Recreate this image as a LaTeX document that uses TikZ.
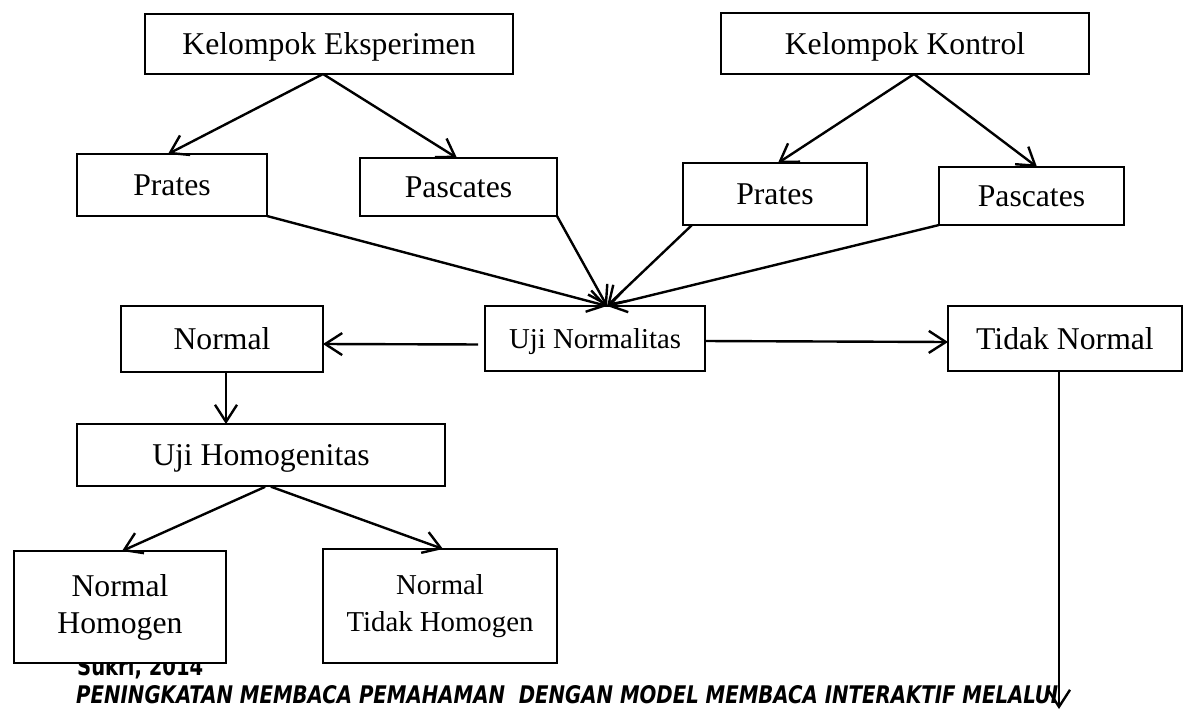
\documentclass[tikz,border=0pt]{standalone}
\usepackage{fontspec}
\setmainfont{Liberation Serif}
\newfontfamily\capfont{DejaVu Sans}
\usetikzlibrary{arrows.meta}
\tikzset{
  box/.style={draw, line width=2.2pt, fill=white, inner sep=0pt, outer sep=0pt,
    font=\fontsize{31.7}{37}\selectfont, text height=21pt, text depth=0pt},
  smallbox/.style={box, font=\fontsize{28.8}{34}\selectfont, text height=19pt},
  boxtwo/.style={draw, line width=2.2pt, fill=white, inner sep=0pt, outer sep=0pt, align=center},
  arr/.style={line width=2.4pt, -{Straight Barb[length=17pt,width=22pt]}},
  caption/.style={inner sep=0pt, anchor=base west}
}
\begin{document}
\begin{tikzpicture}[x=1pt,y=-1pt]
\fill[white] (0,0) rectangle (1183,710);
\useasboundingbox (0,0) rectangle (1183,710);
% captions (partly covered by the boxes)
\node[caption] (cap1) at (77,675) {\resizebox{126pt}{19pt}{\capfont\bfseries Sukri, 2014}};
\node[caption] (cap2) at (76,703) {\resizebox{982pt}{18pt}{\capfont\bfseries\itshape PENINGKATAN MEMBACA PEMAHAMAN\ \ DENGAN MODEL MEMBACA INTERAKTIF MELALUI}};
% boxes
\node[box, minimum width=368pt, minimum height=60pt] (KE) at (329,44) {Kelompok Eksperimen};
\node[box, minimum width=368pt, minimum height=61pt] (KK) at (905,43.5) {Kelompok Kontrol};
\node[box, minimum width=190pt, minimum height=62pt] (PL) at (172,185) {Prates};
\node[box, minimum width=197pt, minimum height=58pt] (PaL) at (458.5,187) {Pascates};
\node[box, minimum width=184pt, minimum height=62pt] (PR) at (775,194) {Prates};
\node[box, minimum width=185pt, minimum height=58pt] (PaR) at (1031.5,196) {Pascates};
\node[box, minimum width=202pt, minimum height=66pt] (NO) at (222,339) {Normal};
\node[smallbox, minimum width=220pt, minimum height=65pt] (UN) at (595,338.5) {Uji Normalitas};
\node[box, minimum width=234pt, minimum height=65pt] (TN) at (1065,338.5) {Tidak Normal};
\node[box, minimum width=368pt, minimum height=62pt] (UH) at (261,455) {Uji Homogenitas};
\node[boxtwo, minimum width=212pt, minimum height=112pt, font=\fontsize{31.7}{37}\selectfont] (NH) at (120,607) {Normal\\Homogen};
\node[boxtwo, minimum width=234pt, minimum height=114pt, font=\fontsize{28.8}{37}\selectfont] (NTH) at (440,606) {Normal\\Tidak Homogen};
% connectors
\draw[arr] ([xshift=-6pt]KE.south) -- ([xshift=-4pt]PL.north);
\draw[arr] ([xshift=-6pt]KE.south) -- ([xshift=-1.5pt]PaL.north);
\draw[arr] ([xshift=9pt]KK.south) -- ([xshift=3pt]PR.north);
\draw[arr] ([xshift=9pt]KK.south) -- ([xshift=5.5pt]PaR.north);
\coordinate (unTip) at ([xshift=12pt]UN.north);
\draw[arr] (PL.south east) -- (unTip);
\draw[arr] (PaL.south east) -- (unTip);
\draw[arr] ([xshift=9pt]PR.south west) -- (unTip);
\draw[arr] (PaR.south west) -- (unTip);
\draw[arr, shorten <=7pt] ([yshift=-6pt]UN.west) -- ([yshift=-5pt]NO.east);
\draw[arr] ([yshift=-2.5pt]UN.east) -- ([yshift=-3.5pt]TN.west);
\draw[arr] ([xshift=4pt]NO.south) -- ([xshift=-35pt]UH.north);
\draw[arr, shorten <=2pt] ([xshift=6pt]UH.south) -- ([xshift=2pt]NH.north);
\draw[arr, shorten <=2pt] ([xshift=8pt]UH.south) -- ([xshift=3pt]NTH.north);
\coordinate (endTN) at (1059,709);
\draw[arr] ([xshift=-6pt]TN.south) -- (endTN);
\end{tikzpicture}
\end{document}
